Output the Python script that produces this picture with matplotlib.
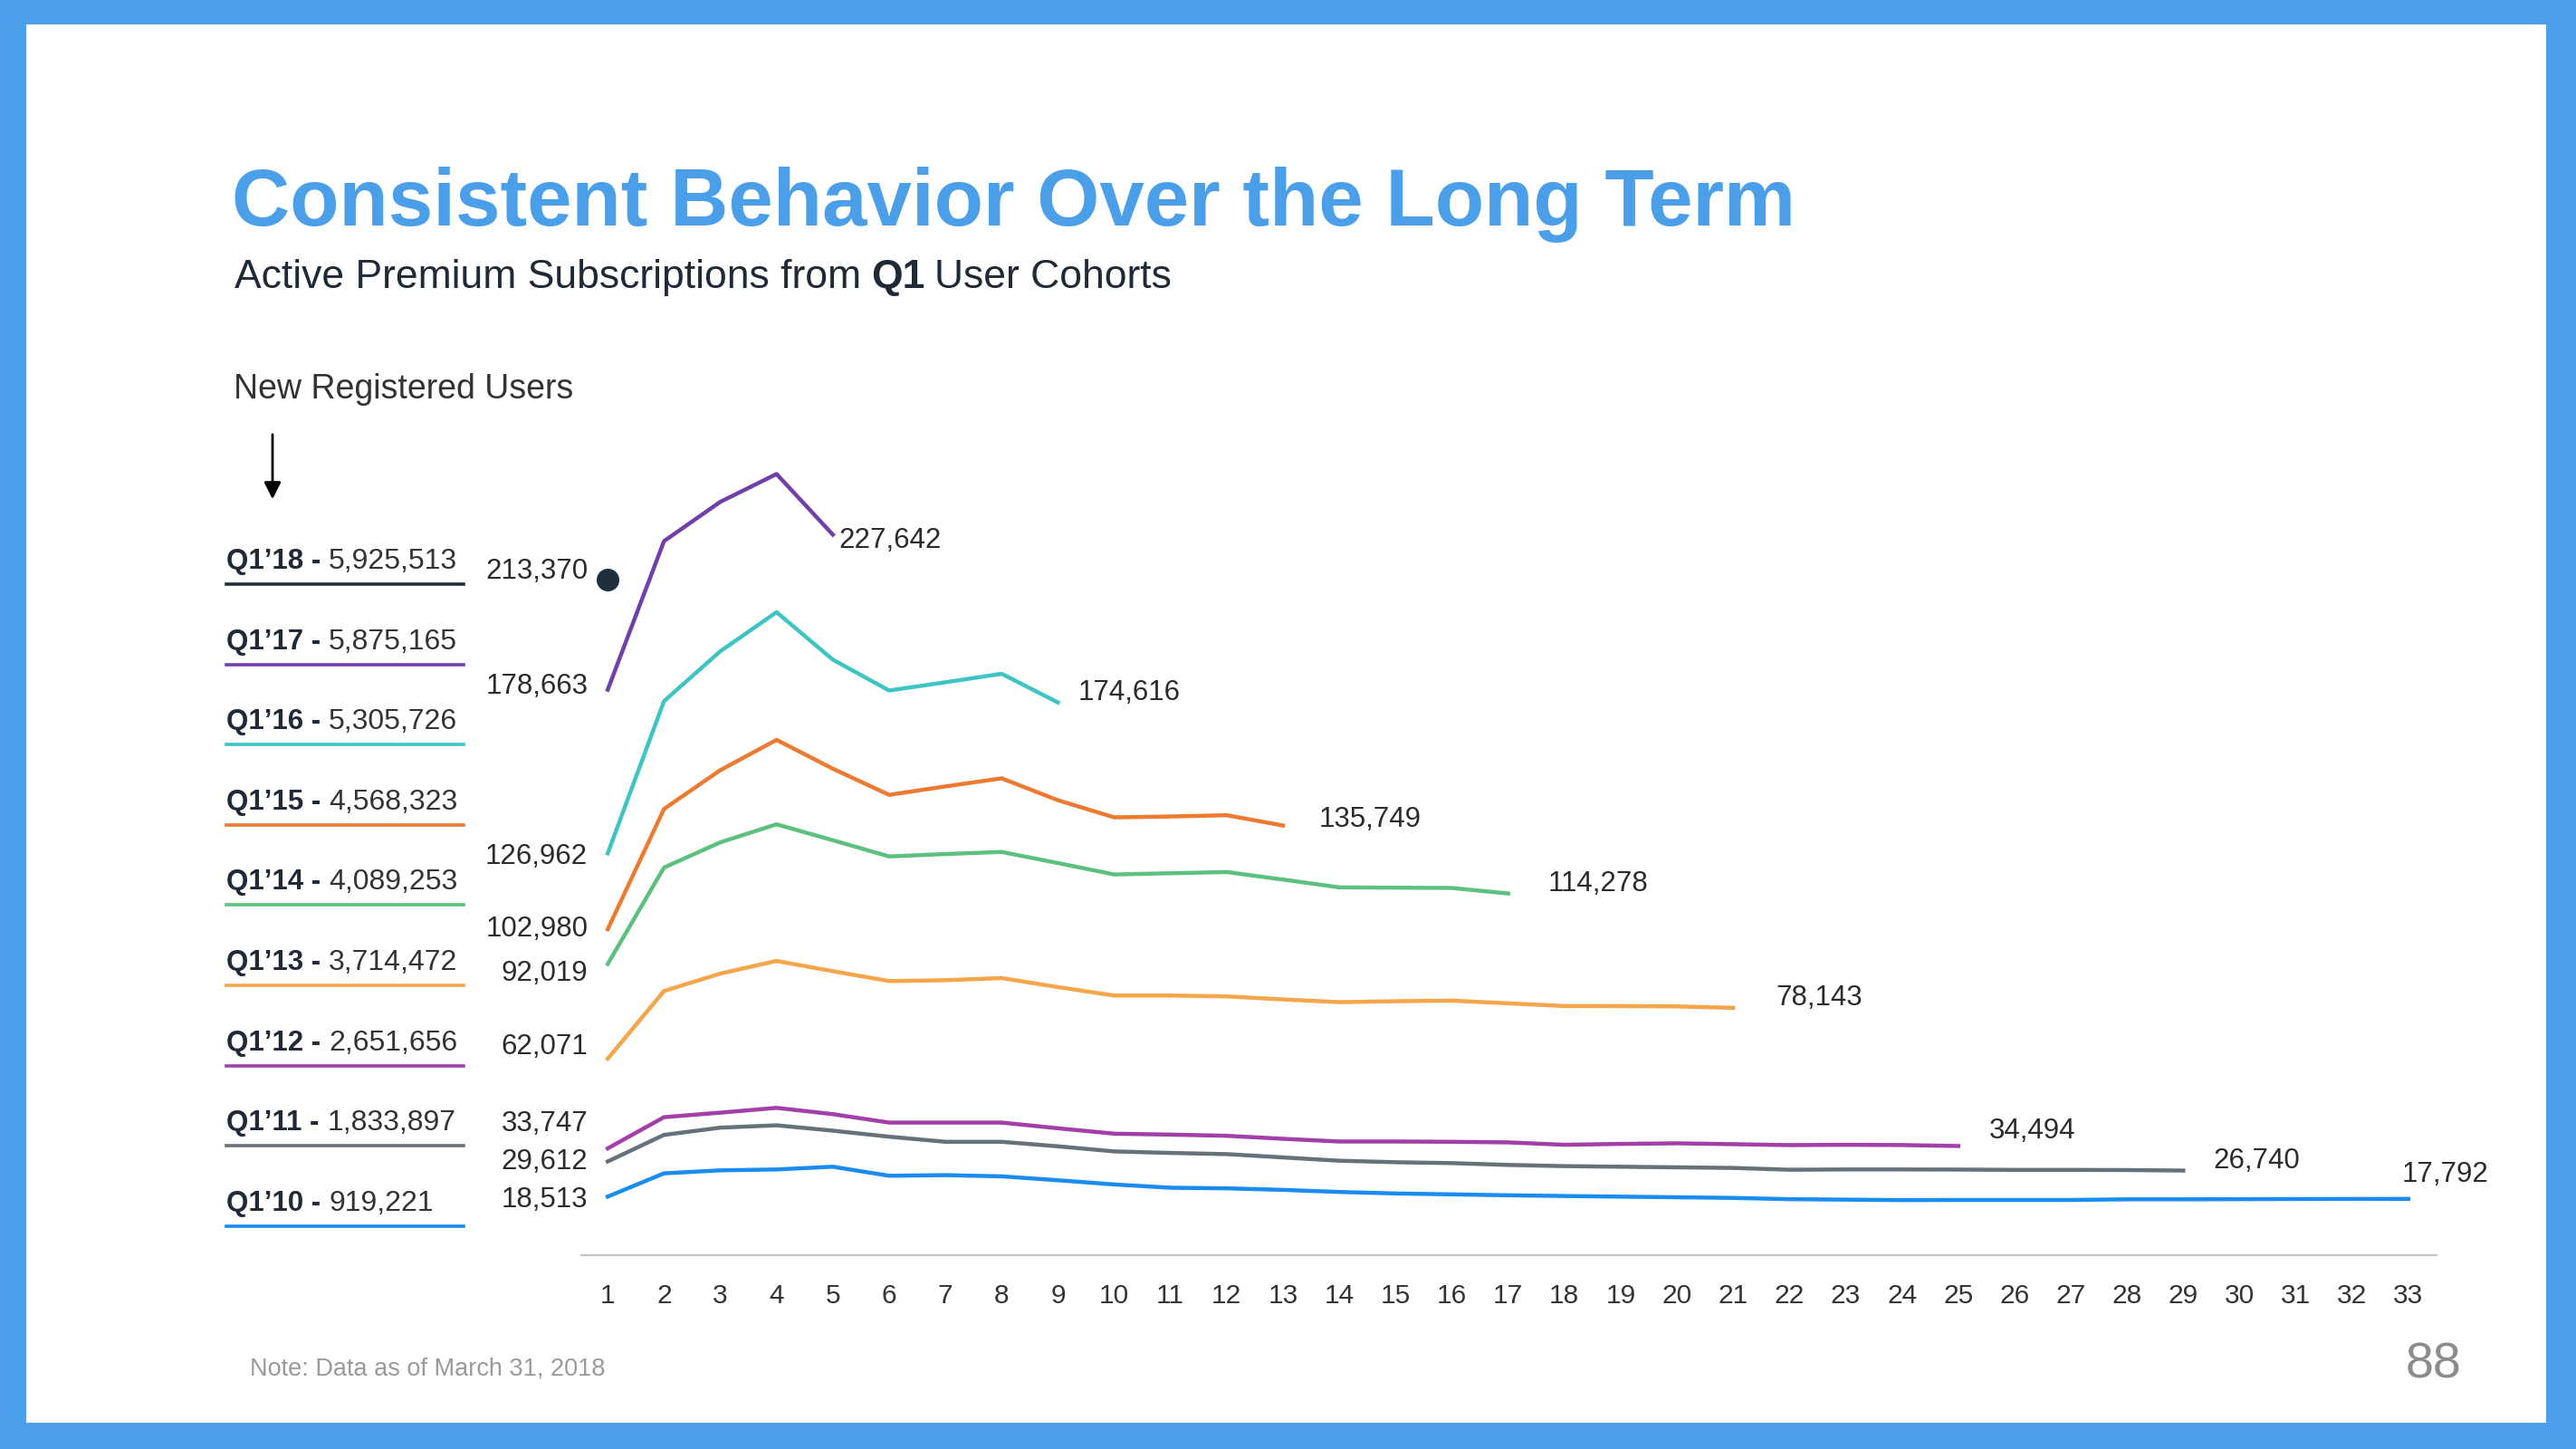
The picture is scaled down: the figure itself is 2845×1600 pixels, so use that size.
import matplotlib.pyplot as plt
from matplotlib.patches import Rectangle
from matplotlib.lines import Line2D

plt.rcParams['font.family'] = ['Liberation Sans', 'DejaVu Sans']

cohorts = ["Q1’18", "Q1’17", "Q1’16", "Q1’15", "Q1’14", "Q1’13", "Q1’12", "Q1’11", "Q1’10"]
new_users = [5925513, 5875165, 5305726, 4568323, 4089253, 3714472, 2651656, 1833897, 919221]
months = list(range(1, 34))

q1_18 = [213370]
q1_17 = [178663, 225600, 238000, 246800, 227642]
q1_16 = [126962, 175050, 190800, 203150, 188150, 178400, 181000, 183700, 174616]
q1_15 = [102980, 140980, 153230, 162810, 153700, 145440, 148100, 150660, 143740, 138330,
         138600, 139000, 135749]
q1_14 = [92019, 122470, 130440, 136130, 131100, 125980, 126740, 127400, 123890, 120290,
         120670, 121050, 118670, 116210, 116110, 116020, 114278]
q1_13 = [62071, 83470, 88970, 92960, 89730, 86600, 86880, 87550, 84700, 82040,
         82040, 81760, 80810, 79950, 80240, 80430, 79570, 78720, 78700, 78600, 78143]
q1_12 = [33747, 43610, 45030, 46550, 44560, 41900, 41900, 41900, 40100, 38390,
         38100, 37720, 36770, 35920, 35920, 35830, 35640, 34880, 35160, 35350,
         35070, 34780, 34880, 34800, 34494]
q1_11 = [29612, 38010, 40290, 41040, 39340, 37440, 35830, 35830, 34400, 32790,
         32310, 31930, 30890, 29850, 29370, 29090, 28520, 28140, 27950, 27760,
         27570, 27000, 27090, 27090, 27050, 26950, 26950, 26900, 26740]
q1_10 = [18513, 25860, 26810, 27090, 27950, 25100, 25290, 24910, 23680, 22350,
         21310, 21120, 20640, 19980, 19500, 19220, 18930, 18700, 18500, 18300,
         18100, 17700, 17550, 17400, 17450, 17450, 17450, 17650, 17650, 17700,
         17750, 17780, 17792]

series = [q1_18, q1_17, q1_16, q1_15, q1_14, q1_13, q1_12, q1_11, q1_10]
colors = ['#1f2d3d', '#7040a8', '#3fc4c4', '#ec7a31', '#5cc17e', '#f5a54a', '#a23fa8', '#66727a', '#1a8cf0']

# label nudges in pixels
start_dy = [9, 4, -4, 0, -11, 13, 27, 0, -4]
end_off = [None, (7, -7), (22, 11), (40, 7), (44, 11), (47, 11), (34, 16), (33, 11), (-7, 27)]

W, H = 2845, 1600
def fx(x):
    return x / W
def fy(y):
    return 1 - y / H

blue = '#4a9fe8'
dark = '#1f2a36'
fig = plt.figure(figsize=(28.45, 16), dpi=100, facecolor=blue)
fig.add_artist(Rectangle((fx(29), fy(1571)), fx(2812) - fx(29), fy(27) - fy(1571),
                         transform=fig.transFigure, facecolor='white', edgecolor='none', zorder=-5))

ax = fig.add_axes([fx(642), fy(1386), fx(2691) - fx(642), fy(500) - fy(1386)])
ax.set_facecolor('none')
ax.set_xlim(0.53, 33.5)
ax.set_ylim(0, 253500)

for i, vals in enumerate(series):
    if len(vals) == 1:
        ax.plot(months[0], vals[0], 'o', ms=17, color=colors[i])
    else:
        ax.plot(months[:len(vals)], vals, color=colors[i], lw=3.2)
        ex, ey = end_off[i]
        ax.annotate(f"{vals[-1]:,}", xy=(len(vals), vals[-1]), xytext=(ex, ey),
                    textcoords='offset pixels', ha='left', va='center', fontsize=22.5, color='#2b2b2b')
    ax.annotate(f"{vals[0]:,}", xy=(1, vals[0]), xytext=(-22, start_dy[i]),
                textcoords='offset pixels', ha='right', va='center', fontsize=22.5, color='#2b2b2b')

for s in ['left', 'right', 'top']:
    ax.spines[s].set_visible(False)
ax.spines['bottom'].set_color('#c4c4c4')
ax.spines['bottom'].set_linewidth(1.5)
ax.set_yticks([])
ax.set_xticks(months)
ax.tick_params(axis='x', length=0, pad=22, labelsize=21.5, labelcolor='#333333')

# titles
fig.text(fx(256), fy(249), "Consistent Behavior Over the Long Term", fontsize=64,
         fontweight='bold', color=blue, va='baseline')
t1 = fig.text(fx(259), fy(318), "Active Premium Subscriptions from", fontsize=32,
              color=dark, va='baseline')
t2 = ax.annotate("Q1", xy=(1, 0), xycoords=t1, xytext=(11, 0), textcoords='offset pixels',
                 fontsize=32, fontweight='bold', color=dark, va='bottom')
ax.annotate("User Cohorts", xy=(1, 0), xycoords=t2, xytext=(11, 0), textcoords='offset pixels',
            fontsize=32, color=dark, va='bottom')

fig.text(fx(258), fy(430), "New Registered Users", fontsize=27, color='#333333', va='center')
ax.annotate('', xy=(fx(301), fy(554)), xytext=(fx(301), fy(477)), xycoords='figure fraction',
            textcoords='figure fraction',
            arrowprops=dict(arrowstyle='-|>', color='black', lw=2, mutation_scale=28))

# cohort legend
for i in range(len(cohorts)):
    ty = 620 + i * 88.6
    ly = 645 + i * 88.6
    t = fig.text(fx(250), fy(ty), f"{cohorts[i]} -", fontsize=22.5, fontweight='bold',
                 color=dark, va='center')
    ax.annotate(f"{new_users[i]:,}", xy=(1, 0), xycoords=t, xytext=(9, 0),
                textcoords='offset pixels', fontsize=23, color='#333333', va='bottom')
    fig.add_artist(Line2D([fx(250), fx(512)], [fy(ly), fy(ly)], color=colors[i], lw=2.6))

fig.text(fx(276), fy(1511), "Note: Data as of March 31, 2018", fontsize=19.5, color='#9a9a9a', va='center')
fig.text(fx(2718), fy(1507), "88", fontsize=40, color='#8c8c8c', va='center', ha='right')

plt.savefig('out.png', dpi=100, facecolor=fig.get_facecolor())
